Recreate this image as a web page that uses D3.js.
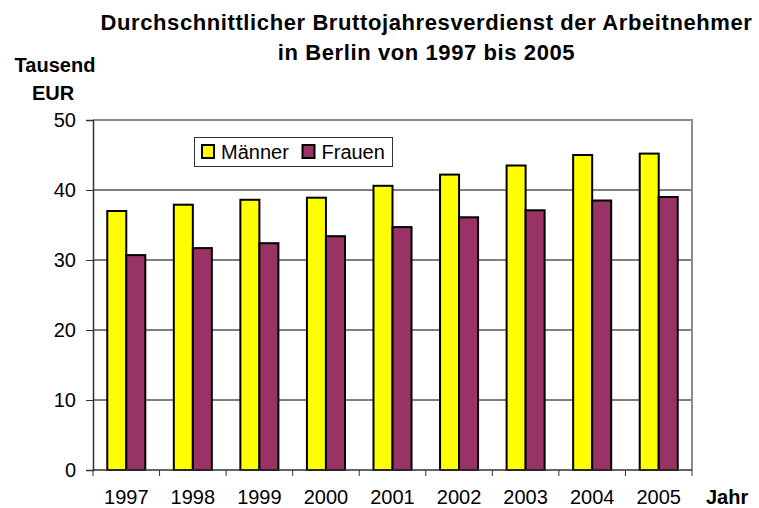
<!DOCTYPE html>
<html>
<head>
<meta charset="utf-8">
<script src="https://cdn.jsdelivr.net/npm/d3@7"></script>
<style>
  body { margin: 0; background: #fff; }
  text { font-family: Arial, "Liberation Sans", sans-serif; }
</style>
</head>
<body>
<svg></svg>
<script>
const width = 759;
const height = 508;

const years = ['1997', '1998', '1999', '2000', '2001', '2002', '2003', '2004', '2005'];
const series = ['Männer', 'Frauen'];
const maenner = [37.0, 37.9, 38.6, 38.9, 40.6, 42.2, 43.5, 45.0, 45.2];
const frauen = [30.7, 31.7, 32.4, 33.4, 34.7, 36.1, 37.1, 38.5, 39.0];
const yTicks = [0, 10, 20, 30, 40, 50];

const margin = { top: 120, left: 93, right: 67, bottom: 38 };
const innerW = width - margin.left - margin.right;
const innerH = height - margin.top - margin.bottom;

const svg = d3.select('svg')
	.attr('width', width)
	.attr('height', height);

const colorScale = d3.scaleOrdinal()
	.domain(series)
	.range(['#ffff00', '#993366']);

const x0 = d3.scaleBand()
	.domain(years)
	.range([0, innerW]);

const x1 = d3.scaleBand()
	.domain(series)
	.range([0, x0.bandwidth()])
	.paddingOuter(0.75);

const y = d3.scaleLinear()
	.domain([0, 50])
	.range([innerH, 0]);

const g = svg.append('g')
	.attr('transform', `translate(${margin.left},${margin.top})`);

// gridlines
g.selectAll('line.grid')
	.data(yTicks.filter(d => d > 0 && d < 50))
	.enter().append('line')
		.attr('class', 'grid')
		.attr('x1', 0)
		.attr('x2', innerW)
		.attr('y1', d => y(d))
		.attr('y2', d => y(d))
		.attr('stroke', '#000')
		.attr('stroke-width', 1);

// plot border (top & right)
g.append('path')
	.attr('d', `M0,${y(50)}H${innerW}V${innerH}`)
	.attr('fill', 'none')
	.attr('stroke', '#8c8c8c')
	.attr('stroke-width', 2);

// bars
const rows = years.map((year, i) => ({ year, values: [maenner[i], frauen[i]] }));

const groups = g.selectAll('g.year')
	.data(rows)
	.enter().append('g')
		.attr('class', 'year')
		.attr('transform', d => `translate(${x0(d.year)},0)`);

groups.selectAll('rect')
	.data(d => series.map((s, i) => ({ s, v: d.values[i] })))
	.enter().append('rect')
		.attr('x', d => x1(d.s))
		.attr('y', d => y(d.v))
		.attr('width', x1.bandwidth())
		.attr('height', d => y(0) - y(d.v))
		.attr('fill', d => colorScale(d.s))
		.attr('stroke', '#000')
		.attr('stroke-width', 2);

// y axis
const yAxis = g.append('g')
	.call(d3.axisLeft(y).tickValues(yTicks).tickSize(7).tickPadding(10));
yAxis.select('.domain').attr('stroke', '#333').attr('stroke-width', 1.5);
yAxis.selectAll('.tick line').attr('stroke', '#333');
yAxis.selectAll('.tick text')
	.attr('font-size', 20)
	.attr('fill', '#000')
	.attr('font-family', 'Arial, "Liberation Sans", sans-serif');

// x axis: line, boundary ticks, labels
const xAxis = g.append('g').attr('transform', `translate(0,${innerH})`);
xAxis.append('line')
	.attr('x1', 0).attr('x2', innerW)
	.attr('stroke', '#333').attr('stroke-width', 1.5);
xAxis.selectAll('line.tick')
	.data(years.concat(['end']))
	.enter().append('line')
		.attr('class', 'tick')
		.attr('x1', (d, i) => i * x0.step())
		.attr('x2', (d, i) => i * x0.step())
		.attr('y1', 0)
		.attr('y2', 6)
		.attr('stroke', '#333');
xAxis.selectAll('text')
	.data(years)
	.enter().append('text')
		.attr('x', d => x0(d) + x0.bandwidth() / 2)
		.attr('y', 34)
		.attr('text-anchor', 'middle')
		.attr('font-size', 20)
		.text(d => d);

// legend
const legend = svg.append('g').attr('transform', 'translate(194.5,137.5)');
legend.append('rect')
	.attr('width', 198)
	.attr('height', 29)
	.attr('fill', '#fff')
	.attr('stroke', '#333')
	.attr('stroke-width', 1);
const legendX = [7.5, 108];
const items = legend.selectAll('g.item')
	.data(series)
	.enter().append('g')
		.attr('class', 'item')
		.attr('transform', (d, i) => `translate(${legendX[i]},7.5)`);
items.append('rect')
	.attr('width', 12)
	.attr('height', 13)
	.attr('fill', d => colorScale(d))
	.attr('stroke', '#000')
	.attr('stroke-width', 2);
items.append('text')
	.attr('x', 19)
	.attr('y', 13.5)
	.attr('font-size', 20)
	.text(d => d);

// titles
const title = svg.append('text')
	.attr('x', 426.5)
	.attr('text-anchor', 'middle')
	.attr('font-size', 22)
	.attr('font-weight', 'bold')
	.attr('letter-spacing', 0.6);
title.append('tspan').attr('x', 426.5).attr('y', 30)
	.text('Durchschnittlicher Bruttojahresverdienst der Arbeitnehmer');
title.append('tspan').attr('x', 426.5).attr('y', 60)
	.text('in Berlin von 1997 bis 2005');

svg.append('text')
	.attr('x', 55)
	.attr('y', 72)
	.attr('text-anchor', 'middle')
	.attr('font-size', 20)
	.attr('font-weight', 'bold')
	.text('Tausend');
svg.append('text')
	.attr('x', 53)
	.attr('y', 100)
	.attr('text-anchor', 'middle')
	.attr('font-size', 20)
	.attr('font-weight', 'bold')
	.text('EUR');

svg.append('text')
	.attr('x', 706)
	.attr('y', 504)
	.attr('font-size', 20)
	.attr('font-weight', 'bold')
	.text('Jahr');
</script>
</body>
</html>
